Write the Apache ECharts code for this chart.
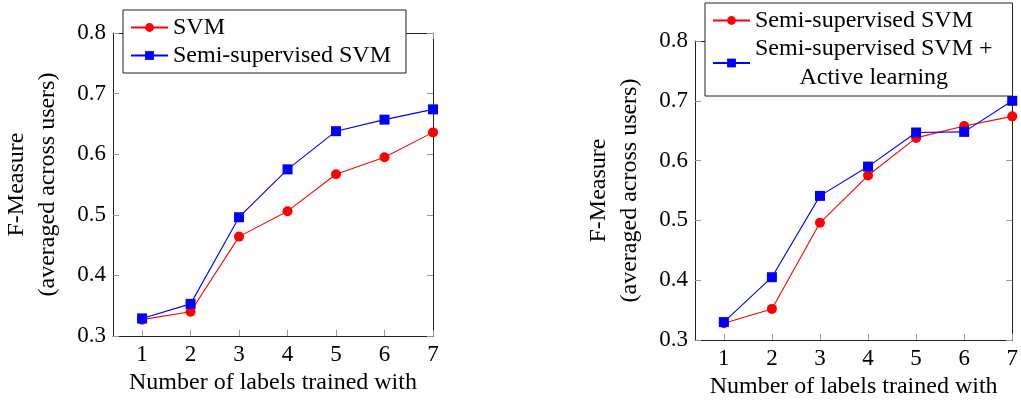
<!DOCTYPE html>
<html>
<head>
<meta charset="utf-8">
<script src="https://cdn.jsdelivr.net/npm/echarts@6/dist/echarts.min.js"></script>
<style>
  html, body { margin: 0; padding: 0; background: #fff; }
  #chart { width: 1021px; height: 404px; }
</style>
</head>
<body>
<div id="chart"></div>
<script>
// Number of labels the classifier was trained with (x positions)
const labelCounts = [1, 2, 3, 4, 5, 6, 7];
const xTicks = [1, 2, 3, 4, 5, 6, 7];
const yTicks = [0.3, 0.4, 0.5, 0.6, 0.7, 0.8];

// Left panel: plain SVM vs semi-supervised SVM
const svmLeft = [0.327, 0.340, 0.464, 0.506, 0.567, 0.595, 0.636];
const semiLeft = [0.329, 0.353, 0.496, 0.575, 0.638, 0.657, 0.674];

// Right panel: semi-supervised SVM vs semi-supervised SVM + active learning
const semiRight = [0.328, 0.352, 0.496, 0.575, 0.638, 0.658, 0.674];
const activeRight = [0.330, 0.405, 0.541, 0.590, 0.647, 0.648, 0.700];

const FONT = 'Liberation Serif';
const TICK_FS = 23;
const TEXT_FS = 24;
const RED = '#ff0000';
const BLUE = '#0000ff';

const pairs = arr => labelCounts.map((x, i) => [x, arr[i]]);

const grids = [
  { left: 113, top: 33, width: 320, height: 303 },
  { left: 695, top: 41, width: 319, height: 302 }
];

function xAxes(gridIndex) {
  const base = {
    type: 'value', gridIndex, min: 0.4, max: 7,
    splitLine: { show: false },
    axisLine: { lineStyle: { color: '#222', width: 1 } },
    axisTick: { inside: true, length: 6, customValues: xTicks, lineStyle: { color: '#999' } }
  };
  return [
    Object.assign({}, base, {
      position: 'bottom',
      axisLabel: { customValues: xTicks, color: '#000', fontFamily: FONT, fontSize: TICK_FS, margin: 7 },
      name: 'Number of labels trained with',
      nameLocation: 'middle', nameGap: 35,
      nameTextStyle: { color: '#000', fontFamily: FONT, fontSize: TEXT_FS }
    }),
    Object.assign({}, base, { position: 'top', axisLabel: { show: false } })
  ];
}

function yAxes(gridIndex) {
  const base = {
    type: 'value', gridIndex, min: 0.3, max: 0.8,
    splitLine: { show: false },
    axisLine: { show: true, lineStyle: { color: '#222', width: 1 } },
    axisTick: { show: true, inside: true, length: 6, customValues: yTicks, lineStyle: { color: '#999' } }
  };
  return [
    Object.assign({}, base, {
      position: 'left',
      axisLabel: { customValues: yTicks, color: '#000', fontFamily: FONT, fontSize: TICK_FS, margin: 7,
                   formatter: v => v.toFixed(1) },
      name: 'F-Measure\n(averaged across users)',
      nameLocation: 'middle', nameGap: 50, nameRotate: 90,
      nameTextStyle: { color: '#000', fontFamily: FONT, fontSize: TEXT_FS, lineHeight: 31, align: 'center' }
    }),
    Object.assign({}, base, { position: 'right', axisLabel: { show: false } })
  ];
}

function lineSeries(id, xi, yi, data, color, symbol) {
  return {
    id, name: id, type: 'line', xAxisIndex: xi, yAxisIndex: yi,
    data, symbol, symbolSize: 10, clip: false, z: symbol === 'rect' ? 3 : 2,
    lineStyle: { color, width: 1.1 },
    itemStyle: { color },
    emphasis: { disabled: true }
  };
}

const legendText = {
  svmL: 'SVM',
  semiL: 'Semi-supervised SVM',
  semiR: 'Semi-supervised SVM',
  activeR: '{c|Semi-supervised SVM +}\n{c|Active learning}'
};

const legendBase = {
  orient: 'vertical',
  backgroundColor: '#fff',
  borderColor: '#222',
  borderWidth: 1,
  borderRadius: 0,
  itemWidth: 37,
  itemHeight: 11,
  itemGap: 1,
  selectedMode: false,
  formatter: name => legendText[name],
  textStyle: {
    color: '#000', fontFamily: FONT, fontSize: TEXT_FS, lineHeight: 27,
    rich: { c: { align: 'center', fontFamily: FONT, fontSize: TEXT_FS, lineHeight: 29, color: '#000' } }
  }
};

const option = {
  animation: false,
  backgroundColor: '#fff',
  grid: grids,
  xAxis: [...xAxes(0), ...xAxes(1)],
  yAxis: [...yAxes(0), ...yAxes(1)],
  legend: [
    Object.assign({}, legendBase, { left: 123, top: 10, padding: [4, 15, 4, 7], data: ['svmL', 'semiL'] }),
    Object.assign({}, legendBase, { left: 705, top: 3, itemGap: 0, padding: [4, 20, 4, 7], data: ['semiR', 'activeR'] })
  ],
  series: [
    lineSeries('svmL', 0, 0, pairs(svmLeft), RED, 'circle'),
    lineSeries('semiL', 0, 0, pairs(semiLeft), BLUE, 'rect'),
    lineSeries('semiR', 2, 2, pairs(semiRight), RED, 'circle'),
    lineSeries('activeR', 2, 2, pairs(activeRight), BLUE, 'rect')
  ]
};

const chart = echarts.init(document.getElementById('chart'), null, { renderer: 'canvas' });
chart.setOption(option);
</script>
</body>
</html>
